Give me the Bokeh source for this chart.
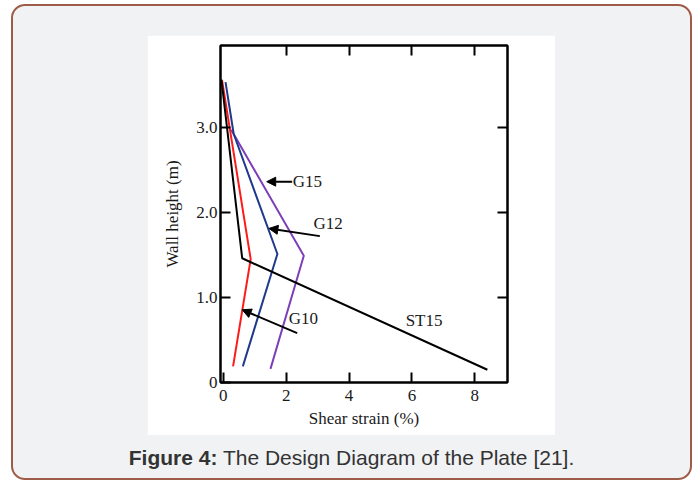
from bokeh.plotting import figure
from bokeh.models import LinearAxis, FixedTicker, Arrow, NormalHead, Div
from bokeh.layouts import column
from bokeh.core.properties import value
from bokeh.embed import file_html
from bokeh.resources import INLINE

# ---- data (shear strain %, wall height m) ----
st15_x = [-0.06, 0.60, 8.40]
st15_y = [3.56, 1.46, 0.15]
g10_x = [-0.04, 0.87, 0.31]
g10_y = [3.55, 1.45, 0.19]
g12_x = [0.07, 0.33, 1.72, 0.62]
g12_y = [3.53, 2.92, 1.51, 0.19]
g15_x = [0.25, 2.56, 1.50]
g15_y = [2.97, 1.49, 0.16]

label_text = ["G15", "G12", "G10", "ST15"]
label_x = [2.21, 2.87, 2.08, 5.80]
label_y = [2.36, 1.87, 0.75, 0.73]

arrow_tail_x = [2.19, 3.07, 2.35]
arrow_tail_y = [2.36, 1.72, 0.58]
arrow_head_x = [1.38, 1.45, 0.60]
arrow_head_y = [2.36, 1.81, 0.855]

x_ticks = [0, 2, 4, 6, 8]
y_ticks = [0, 1, 2, 3]
y_tick_labels = ["0", "1.0", "2.0", "3.0"]

SERIF = "Liberation Serif"
TXT = "#1a1a1a"

p = figure(x_range=(-0.09, 9.04), y_range=(0, 3.96),
           width=408, height=400,
           min_border_left=73, min_border_right=48, min_border_top=10, min_border_bottom=53,
           output_backend="svg", toolbar_location=None,
           background_fill_color="white", border_fill_color="white")
p.xgrid.visible = False
p.ygrid.visible = False
p.outline_line_color = "black"
p.outline_line_width = 2

def style_axis(ax, ticks, show_labels):
    ax.ticker = FixedTicker(ticks=ticks)
    ax.major_tick_in = 10
    ax.major_tick_out = 0
    ax.minor_tick_in = 0
    ax.minor_tick_out = 0
    ax.axis_line_width = 2
    ax.axis_line_color = "black"
    ax.major_tick_line_width = 2
    ax.major_tick_line_color = "black"
    ax.major_label_text_font = SERIF
    ax.major_label_text_font_size = "17px"
    ax.major_label_text_color = TXT
    ax.axis_label_text_font = SERIF
    ax.axis_label_text_font_size = "17px"
    ax.axis_label_text_font_style = "normal"
    ax.axis_label_text_color = TXT
    if not show_labels:
        ax.major_label_overrides = {t: "" for t in ticks}
        ax.major_label_standoff = 0

xb = p.xaxis[0]
style_axis(xb, x_ticks, True)
xb.major_label_standoff = 7
xb.axis_label = "Shear strain (%)"
xb.axis_label_standoff = 5

yl = p.yaxis[0]
style_axis(yl, y_ticks, True)
yl.major_label_overrides = {t: s for t, s in zip(y_ticks, y_tick_labels)}
yl.major_label_standoff = 3
yl.axis_label = "Wall height (m)"
yl.axis_label_standoff = 11

xt = LinearAxis()
style_axis(xt, x_ticks[1:], False)
p.add_layout(xt, "above")
yr = LinearAxis()
style_axis(yr, y_ticks[1:], False)
p.add_layout(yr, "right")

p.line(g15_x, g15_y, line_color="#7d3fb8", line_width=2)
p.line(g12_x, g12_y, line_color="#1f3a8c", line_width=2)
p.line(g10_x, g10_y, line_color="#ff1a1a", line_width=2)
p.line(st15_x, st15_y, line_color="black", line_width=2)

for tx, ty, hx, hy in zip(arrow_tail_x, arrow_tail_y, arrow_head_x, arrow_head_y):
    p.add_layout(Arrow(x_start=tx, y_start=ty, x_end=hx, y_end=hy,
                       line_color="black", line_width=2,
                       end=NormalHead(size=9, fill_color="black", line_color="black")))

p.text(x=label_x, y=label_y, text=label_text, text_font=value(SERIF),
       text_font_size="17px", text_color=TXT, text_baseline="middle", text_align="left")

p.margin = (29, 0, 0, 134)

cap = Div(text="<b>Figure 4:</b> The Design Diagram of the Plate [21].",
          width=677, height=32, margin=(11, 0, 0, 0),
          styles={"text-align": "center", "font-family": "'Liberation Sans', Arial, sans-serif",
                  "font-size": "21px", "color": "#333333", "line-height": "24px"})

layout = column(p, cap, width=681, height=476, margin=(4, 0, 0, 11),
                styles={"background-color": "#f1f2f4", "border": "2px solid #9e5b47",
                        "border-radius": "14px", "box-sizing": "border-box"})

open("out.html", "w").write(file_html(layout, INLINE))
